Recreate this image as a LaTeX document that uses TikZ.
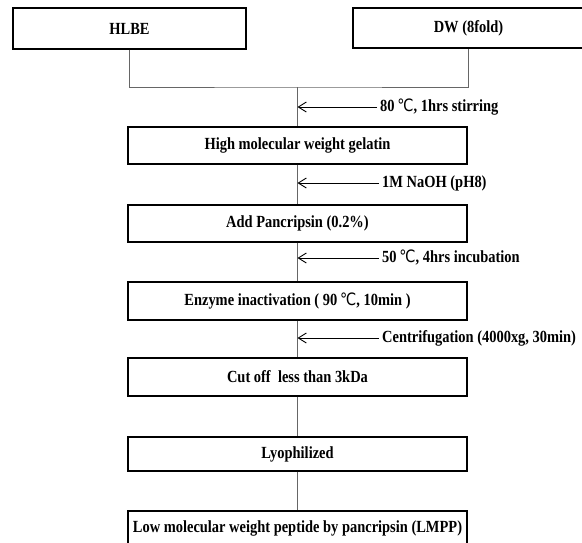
\documentclass[tikz,border=0pt]{standalone}
\usepackage{fontspec}
\setmainfont{Liberation Serif}[FakeStretch=0.85]
\newfontfamily\degfont{DejaVu Sans}[FakeStretch=0.85]
\usetikzlibrary{arrows.meta}
\newcommand{\dgc}{{\degfont\mdseries\,℃}}
\begin{document}
\begin{tikzpicture}[x=1pt,y=-1pt,
  font=\fontsize{17}{20}\selectfont\bfseries,
  box/.style={draw=black,line width=1.3pt,rectangle,inner sep=0pt,minimum height=37pt},
  mainbox/.style={box,minimum width=339pt},
  conn/.style={draw=black!60,line width=1pt},
  addarrow/.style={draw=black,line width=0.9pt,-{Straight Barb[length=8pt,width=10pt]}},
  lbl/.style={anchor=west,inner sep=3pt}]
\useasboundingbox (0,0) rectangle (582,542);
\fill[white] (0,0) rectangle (582,542);
% top boxes
\node[box,minimum width=233pt,minimum height=41pt] (hlbe) at (129.5,28.5) {HLBE};
\node[box,minimum width=231pt,minimum height=40pt] (dw) at (468.5,28) {DW (8fold)};
% main column
\node[mainbox] (gel) at (297.5,145.5) {High molecular weight gelatin};
\node[mainbox] (pan) at (297.5,223.5) {Add Pancripsin (0.2\%)};
\node[mainbox,minimum height=38pt] (enz) at (297.5,301) {Enzyme inactivation ( 90\dgc, 10min )};
\node[mainbox,minimum height=38pt] (cut) at (297.5,377) {Cut off\ \ less than 3kDa};
\node[mainbox,minimum height=34pt] (lyo) at (297.5,454) {Lyophilized};
\node[mainbox,minimum height=35pt] (lmpp) at (297.5,528.5) {Low molecular weight peptide by pancripsin (LMPP)};
% junction
\coordinate (j) at (297.5,87);
\draw[conn] (hlbe.south) |- (j) -| (dw.south);
\draw[conn] (j) -- (gel.north);
\draw[conn] (gel.south) -- (pan.north);
\draw[conn] (pan.south) -- (enz.north);
\draw[conn] (enz.south) -- (cut.north);
\draw[conn] (cut.south) -- (lyo.north);
\draw[conn] (lyo.south) -- (lmpp.north);
% additions
\coordinate (a1) at (297.5,107);
\coordinate (a2) at (297.5,183);
\coordinate (a3) at (297.5,258);
\coordinate (a4) at (297.5,338);
\node[lbl] (l1) at (377,107) {80\dgc, 1hrs stirring};
\node[lbl] (l2) at (379,183) {1M NaOH (pH8)};
\node[lbl] (l3) at (379,258) {50\dgc, 4hrs incubation};
\node[lbl] (l4) at (379,338) {Centrifugation (4000xg, 30min)};
\draw[addarrow] (l1.west) -- (a1);
\draw[addarrow] (l2.west) -- (a2);
\draw[addarrow] (l3.west) -- (a3);
\draw[addarrow] (l4.west) -- (a4);
\end{tikzpicture}
\end{document}
